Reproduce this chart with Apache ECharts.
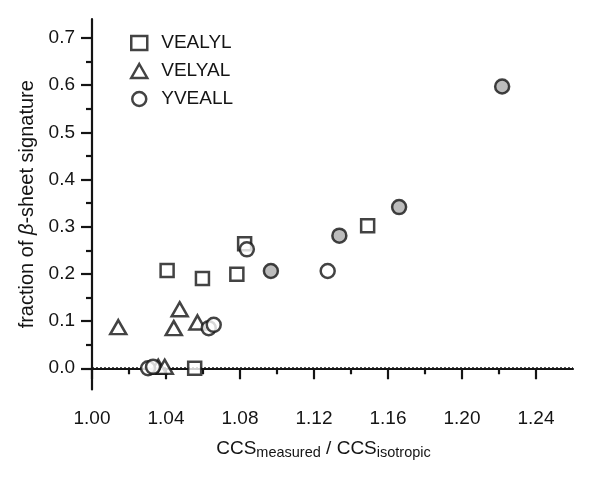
<!DOCTYPE html>
<html>
<head>
<meta charset="utf-8">
<script src="https://cdn.jsdelivr.net/npm/echarts@6/dist/echarts.min.js"></script>
<style>
  html, body { margin: 0; padding: 0; background: #fff; }
  #chart { width: 600px; height: 482px; }
</style>
</head>
<body>
<div id="chart"></div>
<script>
// values
var vealyl_x = [1.0406, 1.0597, 1.0783, 1.0825, 1.1490, 1.0555]
var vealyl_y = [0.207, 0.190, 0.199, 0.264, 0.302, 0.000]
var velyal_x = [1.0142, 1.0442, 1.0474, 1.0570, 1.0358, 1.0393]
var velyal_y = [0.087, 0.085, 0.125, 0.097, 0.003, 0.003]
var yveall_open_x = [1.0303, 1.0330, 1.0631, 1.0658, 1.0837, 1.1274]
var yveall_open_y = [0.000, 0.003, 0.085, 0.092, 0.252, 0.206]
var yveall_filled_x = [1.0967, 1.1337, 1.1660, 1.2217]
var yveall_filled_y = [0.206, 0.281, 0.3415, 0.597]

var x_ticks = [1.00, 1.04, 1.08, 1.12, 1.16, 1.20, 1.24]
var x_minor = [1.02, 1.06, 1.10, 1.14, 1.18, 1.22]
var y_ticks = [0.0, 0.1, 0.2, 0.3, 0.4, 0.5, 0.6, 0.7]
var y_minor = [0.05, 0.15, 0.25, 0.35, 0.45, 0.55, 0.65]
var x_range = [1.00, 1.26]
var y_range = [-0.045, 0.74]
var baseline = 0

var ink = '#141414'
var font = 'Liberation Sans, Arial, sans-serif'

function pairs(xs, ys) {
  var out = []
  for (var i = 0; i < xs.length; i++) out.push([xs[i], ys[i]])
  return out
}

var yveall_data = pairs(yveall_open_x, yveall_open_y)
var filled = pairs(yveall_filled_x, yveall_filled_y)
for (var i = 0; i < filled.length; i++) {
  yveall_data.push({ value: filled[i], itemStyle: { color: '#ababab' } })
}

var chart = echarts.init(document.getElementById('chart'))
var markStyle = { color: '#fff', borderColor: ink, borderWidth: 2.5 }

chart.setOption({
  animation: false,
  grid: { left: 92, right: 27, top: 19, bottom: 92.5 },
  legend: {
    orient: 'vertical',
    left: 130,
    top: 33,
    padding: 0,
    itemWidth: 16,
    itemHeight: 14,
    itemGap: 8,
    itemStyle: { borderWidth: 2.5 },
    textStyle: { fontSize: 19, color: ink, fontFamily: font, lineHeight: 20, padding: [0, 0, 0, 9] },
    data: ['VEALYL', 'VELYAL', 'YVEALL']
  },
  xAxis: [{
    type: 'value',
    position: 'bottom',
    min: x_range[0],
    max: x_range[1],
    name: '{m|CCS}{s|measured}{m| / CCS}{s|isotropic}',
    nameLocation: 'middle',
    nameGap: 47,
    nameTextStyle: {
      padding: [0, 18, 0, 0],
      rich: {
        m: { fontSize: 19, color: ink, fontFamily: font, lineHeight: 24 },
        s: { fontSize: 14.5, color: ink, fontFamily: font, lineHeight: 14, verticalAlign: 'bottom' }
      }
    },
    axisLine: { lineStyle: { color: ink, width: 2.2 } },
    axisTick: { customValues: x_ticks, length: 11, lineStyle: { color: ink, width: 2.2 } },
    axisLabel: {
      customValues: x_ticks,
      margin: 20,
      fontSize: 19,
      color: ink,
      fontFamily: font,
      formatter: function(v) { return v.toFixed(2) }
    },
    splitLine: { show: false }
  }, {
    type: 'value',
    position: 'bottom',
    min: x_range[0],
    max: x_range[1],
    axisLine: { show: false },
    axisTick: { customValues: x_minor, length: 6, lineStyle: { color: ink, width: 2.2 } },
    axisLabel: { show: false },
    splitLine: { show: false }
  }],
  yAxis: [{
    type: 'value',
    position: 'left',
    min: y_range[0],
    max: y_range[1],
    name: '{a|fraction of }{b|β}{a|-sheet signature}',
    nameLocation: 'middle',
    nameGap: 55,
    nameTextStyle: {
      rich: {
        a: { fontSize: 20, color: ink, fontFamily: font },
        b: { fontSize: 20, color: ink, fontFamily: font, fontStyle: 'italic' }
      }
    },
    axisLine: { lineStyle: { color: ink, width: 2.2 } },
    axisTick: { customValues: y_ticks, length: 11, lineStyle: { color: ink, width: 2.2 } },
    axisLabel: {
      customValues: y_ticks,
      margin: 17,
      fontSize: 19,
      color: ink,
      fontFamily: font,
      formatter: function(v) { return v.toFixed(1) }
    },
    splitLine: { show: false }
  }, {
    type: 'value',
    position: 'left',
    min: y_range[0],
    max: y_range[1],
    axisLine: { show: false },
    axisTick: { customValues: y_minor, length: 6, lineStyle: { color: ink, width: 2.2 } },
    axisLabel: { show: false },
    splitLine: { show: false }
  }],
  series: [{
    // dotted zero reference line
    name: 'zero',
    type: 'line',
    silent: true,
    symbol: 'none',
    lineStyle: { color: ink, width: 2, type: [2, 2] },
    data: [[x_range[0], baseline], [x_range[1], baseline]],
    z: 1
  }, {
    name: 'VEALYL',
    type: 'scatter',
    symbol: 'rect',
    symbolSize: 13,
    itemStyle: markStyle,
    data: pairs(vealyl_x, vealyl_y)
  }, {
    name: 'VELYAL',
    type: 'scatter',
    symbol: 'triangle',
    symbolSize: [16, 14],
    itemStyle: markStyle,
    data: pairs(velyal_x, velyal_y)
  }, {
    name: 'YVEALL',
    type: 'scatter',
    symbol: 'circle',
    symbolSize: 14,
    itemStyle: markStyle,
    data: yveall_data
  }]
})
</script>
</body>
</html>
